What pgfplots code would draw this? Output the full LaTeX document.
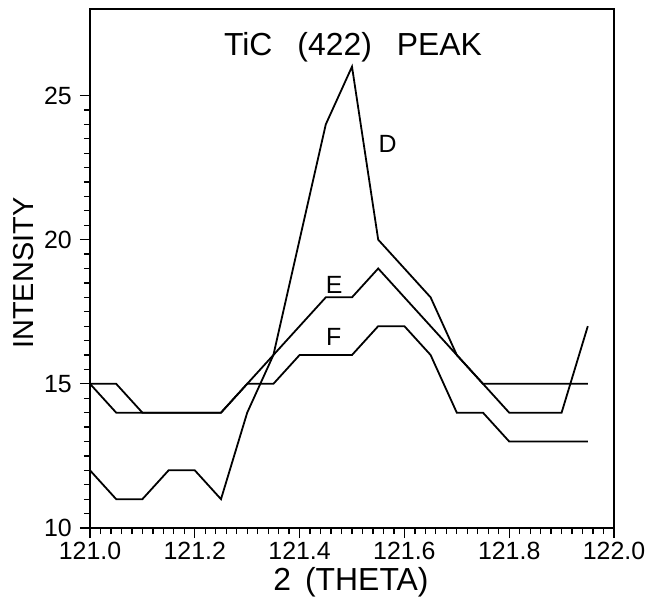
\documentclass[border=0pt]{standalone}
\usepackage{fontspec}
\setmainfont{Liberation Sans}
\usepackage{pgfplots}
\pgfplotsset{compat=1.18}
\begin{document}
\begin{tikzpicture}
\useasboundingbox (-90bp,-71bp) rectangle (555bp,528bp);
\begin{axis}[
  at={(0,0)}, anchor=south west,
  scale only axis, width=524bp, height=519bp,
  xmin=121.0, xmax=122.0, ymin=10, ymax=28,
  xtick={121.0,121.2,121.4,121.6,121.8,122.0},
  xticklabels={121.0,121.2,121.4,121.6,121.8,122.0},
  ytick={10,15,20,25},
  yticklabels={10,15,20,25},
  minor x tick num=9,
  minor y tick num=9,
  tick align=outside,
  xtick pos=left, ytick pos=left,
  major tick length=10bp, minor tick length=6bp,
  every tick/.style={black, line width=1.3bp},
  axis line style={line width=1.8bp},
  tick label style={font=\fontsize{25}{25}\selectfont},
  xticklabel style={anchor=north, inner sep=0pt, yshift=-4bp},
  yticklabel style={anchor=east, inner sep=0pt, xshift=-8bp},
  /pgf/number format/assume math mode=true,
  xlabel={2\hspace{14bp}(THETA)},
  ylabel={INTENSITY},
  xlabel style={font=\fontsize{32}{32}\selectfont, at={(axis description cs:0.498,-0.1195)}, anchor=base, inner sep=0pt},
  ylabel style={font=\fontsize{29}{29}\selectfont, at={(axis description cs:-0.126,0.491)}, anchor=center, inner sep=0pt},
  clip=false,
]
\addplot[black, line width=1.8bp] table {
121.00 12
121.05 11
121.10 11
121.15 12
121.20 12
121.25 11
121.30 14
121.35 16
121.40 20
121.45 24
121.50 26
121.55 20
121.60 19
121.65 18
121.70 16
121.75 15
121.80 14
121.85 14
121.90 14
121.95 17
};
\addplot[black, line width=1.8bp] table {
121.00 15
121.05 14
121.10 14
121.15 14
121.20 14
121.25 14
121.30 15
121.35 16
121.40 17
121.45 18
121.50 18
121.55 19
121.60 18
121.65 17
121.70 16
121.75 15
121.80 15
121.85 15
121.90 15
121.95 15
};
\addplot[black, line width=1.8bp] table {
121.00 15
121.05 15
121.10 14
121.15 14
121.20 14
121.25 14
121.30 15
121.35 15
121.40 16
121.45 16
121.50 16
121.55 17
121.60 17
121.65 16
121.70 14
121.75 14
121.80 13
121.85 13
121.90 13
121.95 13
};
\node[anchor=base, font=\fontsize{32}{32}\selectfont, inner sep=0pt] at (axis cs:121.502,26.38) {TiC\hspace{25bp}(422)\hspace{25bp}PEAK};
\node[anchor=base, font=\fontsize{25}{25}\selectfont, inner sep=0pt] at (axis cs:121.568,23.03) {D};
\node[anchor=base, font=\fontsize{25}{25}\selectfont, inner sep=0pt] at (axis cs:121.466,18.12) {E};
\node[anchor=base, font=\fontsize{25}{25}\selectfont, inner sep=0pt] at (axis cs:121.465,16.32) {F};
\end{axis}
\end{tikzpicture}
\end{document}
